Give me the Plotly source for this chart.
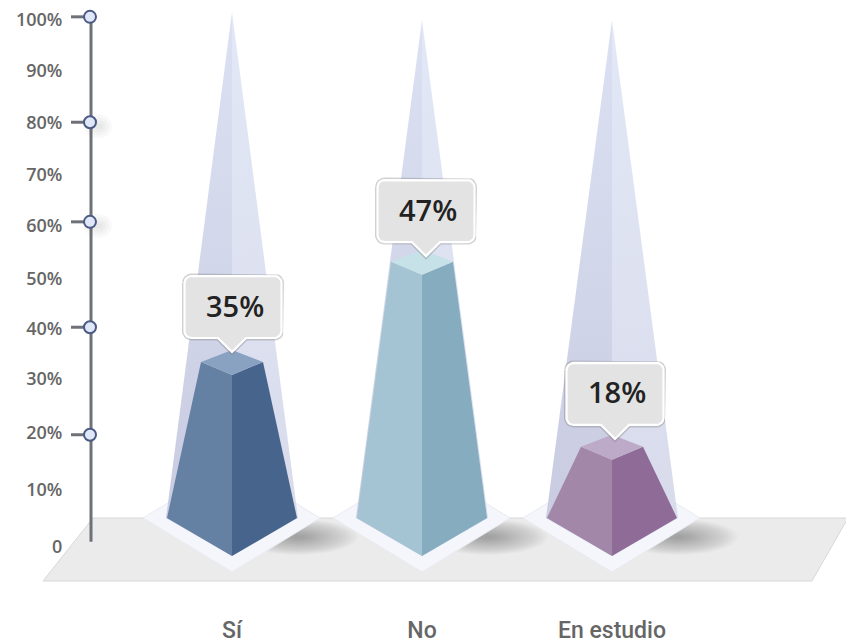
import math
import plotly.graph_objects as go

categories = ["Sí", "No", "En estudio"]
values = [35, 47, 18]
drawn_tops = [37.4, 56.4, 21.3]
ghost_tops = [101.5, 100.0, 100.0]
label_anchors = [37.0, 55.2, 20.5]
tick_labels = ["0", "10%", "20%", "30%", "40%", "50%", "60%", "70%", "80%", "90%", "100%"]
tick_positions = [0, 10.8, 21.6, 31.9, 41.5, 51.0, 60.9, 70.6, 80.5, 90.3, 100]
ring_positions = [21.3, 41.7, 61.7, 80.6, 100.6]

centers = [232, 422, 612]
left_faces = ["#6480a2", "#a5c4d3", "#a287a9"]
right_faces = ["#47648c", "#85acbf", "#8f6b98"]
top_faces = ["#8aa2c2", "#c6e1e8", "#bcaac8"]
box_dx = [1, 4, 3]
tip_dx = [0, 4, 3]

W, H = 846, 643
PB = 608
K = 5.27
Y0 = 547
def v(p):
    return (Y0 - p) / K

fig = go.Figure()
def poly(xs, ys, color, line=None, width=0, grad=None, opacity=None):
    kw = dict(x=list(xs) + [xs[0]], y=list(ys) + [ys[0]], mode="lines", fill="toself",
              hoverinfo="skip", showlegend=False,
              line=dict(color=line or "rgba(0,0,0,0)", width=width))
    if grad:
        kw["fillgradient"] = dict(type="vertical", colorscale=[[0, grad[0]], [1, grad[1]]])
    else:
        kw["fillcolor"] = color
    fig.add_trace(go.Scatter(**kw))

def ellipse(cx, cy, rx, ry, color):
    n = 40
    xs = [cx + rx * math.cos(2 * math.pi * i / n) for i in range(n)]
    ys = [v(cy + ry * math.sin(2 * math.pi * i / n)) for i in range(n)]
    poly(xs, ys, color)

# floor
poly([93, W + 2, 812, 43], [v(518), v(518), v(581), v(581)], "#ebebeb", line="#d8d8d8", width=1)

# shadows on the floor
for cx in centers:
    for i in range(24):
        f = 1 - i / 24
        ellipse(cx + 66, 537, 60 * f, 18 * f, "rgba(80,72,72,0.024)")

# light diamonds and ghosts
for cx, gt in zip(centers, ghost_tops):
    poly([cx - 89, cx, cx + 88, cx], [v(518), v(464), v(518), v(572)], "#f4f6fc", line="#e9ebf0", width=1)
    poly([cx, cx - 66, cx], [gt, v(518), v(556)], "", grad=("#c8cadf", "#dbe1f3"))
    poly([cx, cx + 66, cx], [gt, v(518), v(556)], "", grad=("#d8daea", "#e2e8f7"))

# frustums
for cx, top, lf, rf, tf in zip(centers, drawn_tops, left_faces, right_faces, top_faces):
    side = top - 12 / K
    front = top - 25 / K
    poly([cx - 31, cx - 65, cx, cx], [side, v(518), v(556), front], lf)
    poly([cx + 31, cx + 65, cx, cx], [side, v(518), v(556), front], rf)
    poly([cx, cx - 31, cx, cx + 31], [top, side, front, side], tf)

# axis
fig.add_trace(go.Scatter(x=[91, 91], y=[100.6, 1], mode="lines", hoverinfo="skip", showlegend=False,
                         line=dict(color="#6f7178", width=3)))
for r in ring_positions[1:-1]:
    p = Y0 - r * K
    if r > 50:
        for i in range(4):
            ellipse(98, p + 4, 14 - 3 * i, 12 - 3 * i, "rgba(90,90,90,0.035)")
for r in ring_positions:
    fig.add_trace(go.Scatter(x=[71, 90], y=[r, r], mode="lines", hoverinfo="skip", showlegend=False,
                             line=dict(color="#6f7178", width=3)))
fig.add_trace(go.Scatter(x=[90] * len(ring_positions), y=ring_positions, mode="markers",
                         hoverinfo="skip", showlegend=False,
                         marker=dict(size=12, color="#dfe7f8", line=dict(color="#4a5a82", width=2))))

# callouts
def callout(bx, tipx, tipv):
    bw, bh, rr = 97, 62, 7
    tp = Y0 - tipv * K
    bottom = tp - 14
    topp = bottom - bh
    l, r_ = bx - bw / 2, bx + bw / 2
    pts = []
    def arc(cx, cy, a0):
        for i in range(7):
            a = math.radians(a0 + 15 * i)
            pts.append((cx + rr * math.cos(a), cy + rr * math.sin(a)))
    arc(l + rr, topp + rr, 180)
    arc(r_ - rr, topp + rr, 270)
    arc(r_ - rr, bottom - rr, 0)
    pts.extend([(tipx + 14, bottom), (tipx, tp), (tipx - 14, bottom)])
    arc(l + rr, bottom - rr, 90)
    return pts

annotations = []
for cx, a, dx, tdx, val in zip(centers, label_anchors, box_dx, tip_dx, values):
    pts = callout(cx + dx, cx + tdx, a)
    xs = [q[0] for q in pts]
    ys = [v(q[1]) for q in pts]
    poly(xs, ys, "rgba(0,0,0,0)", line="rgba(120,120,120,0.35)", width=5)
    poly(xs, ys, "#e3e3e3", line="#ffffff", width=2.2)
    p_center = (Y0 - a * K) - 14 - 31
    annotations.append(dict(x=cx + dx + 2, y=v(p_center - 2), xref="x", yref="y", text=f"{val}%",
                            showarrow=False, xanchor="center", yanchor="middle",
                            font=dict(family="Open Sans", size=29, color="#222222", weight=600)))

fig.update_layout(
    width=W, height=H, autosize=False,
    margin=dict(l=0, r=0, t=0, b=H - PB),
    paper_bgcolor="white", plot_bgcolor="white",
    showlegend=False, annotations=annotations,
    font=dict(family="Open Sans"),
    xaxis=dict(range=[0, W], showgrid=False, zeroline=False, showline=False, automargin=False,
               tickmode="array", tickvals=centers, ticktext=categories,
               ticks="outside", ticklen=1, tickcolor="rgba(0,0,0,0)",
               tickfont=dict(family="Roboto", size=23, color="#666666", weight=500)),
    yaxis=dict(range=[v(PB), v(0)], showgrid=False, zeroline=False, showline=False, automargin=False,
               anchor="free", position=91 / W,
               tickmode="array", tickvals=tick_positions, ticktext=tick_labels,
               ticks="outside", ticklen=25, tickcolor="rgba(0,0,0,0)",
               tickfont=dict(family="Open Sans", size=18, color="#666666", weight=600)),
)
fig.write_html("out.html", config={"displayModeBar": False},
               post_script="document.body.style.margin='0';document.documentElement.style.overflow='hidden';")
